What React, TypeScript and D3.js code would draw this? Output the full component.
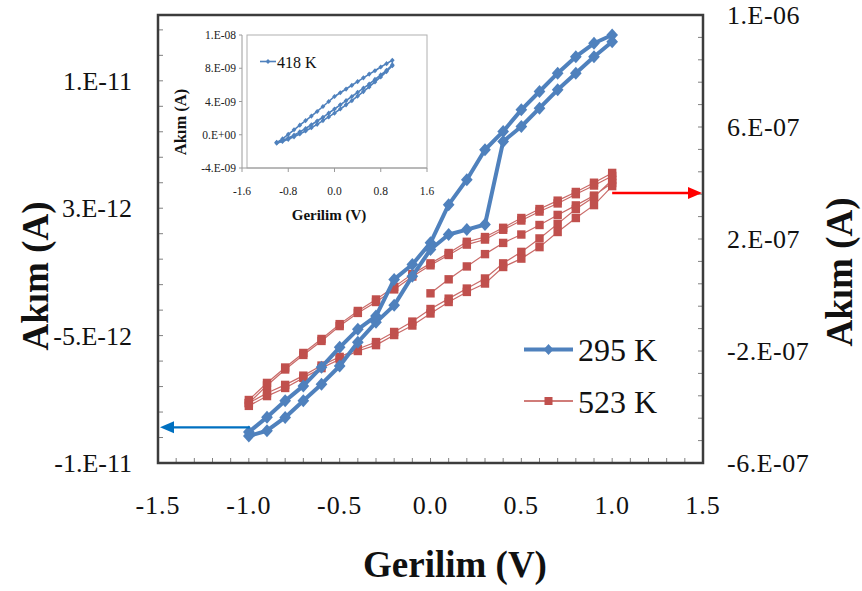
import React from "react";
import * as d3 from "d3";

// ---------- data ----------
const vUp = [-1.0, -0.9, -0.8, -0.7, -0.6, -0.5, -0.4, -0.3, -0.2, -0.1, 0.0, 0.1, 0.2, 0.3, 0.4, 0.5, 0.6, 0.7, 0.8, 0.9, 1.0];
const vDown = [1.0, 0.9, 0.8, 0.7, 0.6, 0.5, 0.4, 0.3, 0.2, 0.1, 0.0, -0.1, -0.2, -0.3, -0.4, -0.5, -0.6, -0.7, -0.8, -0.9, -1.0];
const vHalf = [0.0, 0.1, 0.2, 0.3, 0.4, 0.5, 0.6, 0.7, 0.8, 0.9, 1.0];

// 295 K (left axis, x1e-12 A)
const blue295Forward = [-10.91, -10.60, -9.82, -8.84, -7.86, -6.79, -5.39, -4.22, -3.22, -1.50, 0.07, 0.95, 1.24, 1.54, 6.43, 7.31, 8.39, 9.47, 10.45, 11.42, 12.30];
const blue295Return = [12.70, 12.21, 11.42, 10.45, 9.37, 8.29, 7.02, 5.94, 4.18, 2.71, 0.46, -0.81, -1.69, -3.85, -4.63, -5.69, -6.86, -7.96, -8.84, -9.80, -10.68];

// 523 K (right axis, x1e-7 A)
const red523Start = [0.06, 0.56, 1.02, 1.46, 1.86, 2.16, 2.50, 2.86, 3.20, 3.55, 4.00];
const red523Return1 = [4.36, 4.01, 3.68, 3.37, 3.07, 2.75, 2.40, 2.07, 1.90, 1.50, 1.13, 0.75, 0.29, -0.16, -0.57, -1.04, -1.57, -2.07, -2.59, -3.14, -3.75];
const red523Forward1 = [-3.86, -3.50, -3.21, -2.88, -2.52, -2.21, -1.93, -1.68, -1.32, -0.95, -0.50, -0.13, 0.23, 0.59, 1.13, 1.54, 2.02, 2.54, 3.07, 3.50, 4.11];
const red523Return2 = [4.25, 3.91, 3.60, 3.27, 2.98, 2.66, 2.33, 1.98, 1.80, 1.43, 1.06, 0.66, 0.20, -0.25, -0.64, -1.11, -1.64, -2.14, -2.66, -3.23, -3.86];
const red523Forward2 = [-3.96, -3.61, -3.32, -2.96, -2.61, -2.30, -2.00, -1.79, -1.43, -1.09, -0.66, -0.25, 0.11, 0.41, 1.00, 1.30, 1.71, 2.25, 2.75, 3.21, 3.89];

// 418 K inset (x1e-9 A)
const inset418Forward1 = [-0.9, -0.7, -0.4, -0.05, 0.35, 0.75, 1.2, 1.65, 2.1, 2.6, 3.1, 3.6, 4.1, 4.6, 5.1, 5.6, 6.1, 6.65, 7.2, 7.75, 8.4];
const inset418Return = [8.96, 8.55, 8.15, 7.7, 7.3, 6.85, 6.4, 5.95, 5.5, 5.05, 4.6, 4.0, 3.4, 2.8, 2.25, 1.7, 1.15, 0.6, 0.05, -0.5, -0.96];
const inset418Forward2 = [-1.0, -0.8, -0.55, -0.25, 0.1, 0.45, 0.85, 1.25, 1.7, 2.15, 2.6, 3.1, 3.6, 4.1, 4.65, 5.2, 5.75, 6.35, 6.95, 7.6, 8.3];

// ticks
const xTicks = [-1.5, -1.0, -0.5, 0.0, 0.5, 1.0, 1.5];
const xTickLabels = ["-1.5", "-1.0", "-0.5", "0.0", "0.5", "1.0", "1.5"];
const leftTicks = [-1.25e-11, -5e-12, 2.5e-12, 1e-11];
const leftTickLabels = ["-1.E-11", "-5.E-12", "3.E-12", "1.E-11"];
const rightTicks = [-6e-7, -2e-7, 2e-7, 6e-7, 1e-6];
const rightTickLabels = ["-6.E-07", "-2.E-07", "2.E-07", "6.E-07", "1.E-06"];
const insetXTicks = [-1.6, -0.8, 0.0, 0.8, 1.6];
const insetXTickLabels = ["-1.6", "-0.8", "0.0", "0.8", "1.6"];
const insetYTicks = [-4e-9, 0, 4e-9, 8e-9, 1.2e-8];
const insetYTickLabels = ["-4.E-09", "0.E+00", "4.E-09", "8.E-09", "1.E-08"];

// annotation arrow levels
const blueArrowLevel = -10.4e-12;
const redArrowLevel = 3.64e-7;

const FONT = '"Liberation Serif", "DejaVu Serif", "Times New Roman", serif';
const BLUE = "#4F81BD";
const RED = "#C0504D";

type P = { v: number; i: number };
const zip = (vs: number[], is: number[], k: number): P[] => vs.map((v, j) => ({ v, i: is[j] * k }));

const T = (props: any) => {
  const { children, style, ...rest } = props;
  return <text {...rest} style={{ fontFamily: FONT, ...(style || {}) }}>{children}</text>;
};

export default function App() {
  const L = 158, R = 703, Tp = 15, B = 463;
  const x = d3.scaleLinear().domain([-1.5, 1.5]).range([L, R]);
  const yL = d3.scaleLinear().domain([-1.25e-11, 1.3875e-11]).range([B, Tp]);
  const yR = d3.scaleLinear().domain([-6e-7, 1e-6]).range([B, Tp]);

  const blue = [...zip(vUp, blue295Forward, 1e-12), ...zip(vDown, blue295Return, 1e-12)];
  const red = [
    ...zip(vHalf, red523Start, 1e-7),
    ...zip(vDown, red523Return1, 1e-7),
    ...zip(vUp, red523Forward1, 1e-7),
    ...zip(vDown, red523Return2, 1e-7),
    ...zip(vUp, red523Forward2, 1e-7),
  ];

  const blueLine = d3.line<P>().x(d => x(d.v)).y(d => yL(d.i));
  const redLine = d3.line<P>().x(d => x(d.v)).y(d => yR(d.i));

  // inset
  const iL = 242, iR = 427, iT = 35, iB = 168;
  const ix = d3.scaleLinear().domain([-1.6, 1.6]).range([iL, iR]);
  const iy = d3.scaleLinear().domain([-4e-9, 1.2e-8]).range([iB, iT]);
  const ins = [
    ...zip(vUp, inset418Forward1, 1e-9),
    ...zip(vDown, inset418Return, 1e-9),
    ...zip(vUp, inset418Forward2, 1e-9),
  ];
  const insLine = d3.line<P>().x(d => ix(d.v)).y(d => iy(d.i));

  const xMinor = d3.range(-15, 16).map(k => k / 10);
  const leftMinor = d3.range(0, 18).map(k => -1.25e-11 + k * 1.5e-12).filter(v => v <= 1.3875e-11);
  const rightMinor = d3.range(0, 21).map(k => -6e-7 + k * 8e-8);

  const diamond = (cx: number, cy: number, r: number) => `M${cx},${cy - r}L${cx + r * 0.9},${cy}L${cx},${cy + r}L${cx - r * 0.9},${cy}Z`;

  const bax = x(-1.0) + 1, bay = yL(blueArrowLevel);
  const rax = x(1.0), ray = yR(redArrowLevel);

  return (
    <svg width={862} height={591} style={{ position: "absolute", left: 0, top: 0, background: "#fff" }}>
      <rect x={0} y={0} width={862} height={591} fill="#fff" />
      {xMinor.map((v, k) => (
        <line key={"xm" + k} x1={x(v)} x2={x(v)} y1={B} y2={B - 5} stroke="#808080" strokeWidth={1} />
      ))}
      {leftMinor.map((v, k) => (
        <line key={"lm" + k} x1={L} x2={L + 5} y1={yL(v)} y2={yL(v)} stroke="#808080" strokeWidth={1} />
      ))}
      {rightMinor.map((v, k) => (
        <line key={"rm" + k} x1={R} x2={R - 5} y1={yR(v)} y2={yR(v)} stroke="#808080" strokeWidth={1} />
      ))}

      {/* inset */}
      <g>
        <rect x={iL + 5} y={iT} width={iR - iL - 5} height={iB - iT} fill="#fff" stroke="#b0b0b0" strokeWidth={1} />
        <line x1={iL} x2={iL} y1={iT} y2={iB} stroke="#9a9a9a" strokeWidth={1} />
        <line x1={iL} x2={iR} y1={iB} y2={iB} stroke="#9a9a9a" strokeWidth={1} />
        {insetYTicks.map((v, k) => (
          <g key={"iy" + k}>
            <line x1={iL - 3} x2={iL} y1={iy(v)} y2={iy(v)} stroke="#9a9a9a" />
            <T x={iL - 6} y={iy(v)} dy="0.35em" textAnchor="end" fontSize={11.5} fill="#222">{insetYTickLabels[k]}</T>
          </g>
        ))}
        {insetXTicks.map((v, k) => (
          <g key={"ix" + k}>
            <line x1={ix(v)} x2={ix(v)} y1={iB} y2={iB + 4} stroke="#9a9a9a" />
            <T x={ix(v)} y={iB + 27} textAnchor="middle" fontSize={11.5} fill="#222">{insetXTickLabels[k]}</T>
          </g>
        ))}
        <path d={insLine(ins) || ""} fill="none" stroke={BLUE} strokeWidth={1.6} />
        {ins.map((d, k) => (
          <path key={"ip" + k} d={diamond(ix(d.v), iy(d.i), 2.6)} fill={BLUE} />
        ))}
        <line x1={260} x2={276} y1={61.5} y2={61.5} stroke={BLUE} strokeWidth={1.6} />
        <path d={diamond(268, 61.5, 2.6)} fill={BLUE} />
        <T x={277} y={67.5} fontSize={16} fill="#111">418 K</T>
        <T x={329} y={220} textAnchor="middle" fontSize={15} fontWeight="bold" fill="#111">Gerilim (V)</T>
        <T transform={`translate(186,122) rotate(-90)`} textAnchor="middle" fontSize={16.5} fontWeight="bold" fill="#111">Akım (A)</T>
      </g>

      {/* series */}
      <path d={redLine(red) || ""} fill="none" stroke={RED} strokeWidth={1.2} strokeOpacity={0.85} />
      {red.map((d, k) => (
        <rect key={"r" + k} x={x(d.v) - 4.2} y={yR(d.i) - 4.2} width={8.4} height={8.4} fill={RED} />
      ))}
      <path d={blueLine(blue) || ""} fill="none" stroke={BLUE} strokeWidth={4} strokeLinejoin="round" />
      {blue.map((d, k) => (
        <path key={"b" + k} d={diamond(x(d.v), yL(d.i), 6.5)} fill={BLUE} />
      ))}

      {/* frame */}
      <rect x={L} y={Tp} width={R - L} height={B - Tp} fill="none" stroke="#3c3c3c" strokeWidth={2.5} />

      {/* arrows */}
      <line x1={bax} x2={x(-1.5) + 14} y1={bay} y2={bay} stroke="#0070C0" strokeWidth={2.2} />
      <path d={`M${x(-1.5) + 2},${bay}L${x(-1.5) + 16},${bay - 6}L${x(-1.5) + 16},${bay + 6}Z`} fill="#0070C0" />
      <line x1={rax} x2={x(1.5) - 12} y1={ray} y2={ray} stroke="#FF0000" strokeWidth={2.5} />
      <path d={`M${x(1.5) - 1},${ray}L${x(1.5) - 15},${ray - 6}L${x(1.5) - 15},${ray + 6}Z`} fill="#FF0000" />

      {/* legend */}
      <line x1={524} x2={573} y1={349.5} y2={349.5} stroke={BLUE} strokeWidth={4} />
      <path d={diamond(548.5, 349.5, 5.5)} fill={BLUE} />
      <T x={578} y={361} fontSize={32} fill="#111">295 K</T>
      <line x1={524} x2={573} y1={401} y2={401} stroke={RED} strokeWidth={1.3} />
      <rect x={544.5} y={397} width={8} height={8} fill={RED} />
      <T x={578} y={413} fontSize={32} fill="#111">523 K</T>

      {/* axis tick labels */}
      {xTicks.map((v, k) => (
        <T key={"xl" + k} x={x(v)} y={514} textAnchor="middle" fontSize={26} letterSpacing={1} fill="#111">{xTickLabels[k]}</T>
      ))}
      {leftTicks.map((v, k) => (
        <T key={"ll" + k} x={132} y={yL(v)} dy="0.35em" textAnchor="end" fontSize={26} fill="#111">{leftTickLabels[k]}</T>
      ))}
      {rightTicks.map((v, k) => (
        <T key={"rl" + k} x={727} y={yR(v)} dy="0.35em" textAnchor="start" fontSize={26} letterSpacing={0.5} fill="#111">{rightTickLabels[k]}</T>
      ))}

      {/* axis titles */}
      <T x={455} y={577} textAnchor="middle" fontSize={37} fontWeight="bold" fill="#111">Gerilim (V)</T>
      <T transform={`translate(48,276) rotate(-90)`} textAnchor="middle" fontSize={37} fontWeight="bold" fill="#111">Akım (A)</T>
      <T transform={`translate(852,272) rotate(-90)`} textAnchor="middle" fontSize={37} fontWeight="bold" fill="#111">Akım (A)</T>
    </svg>
  );
}
